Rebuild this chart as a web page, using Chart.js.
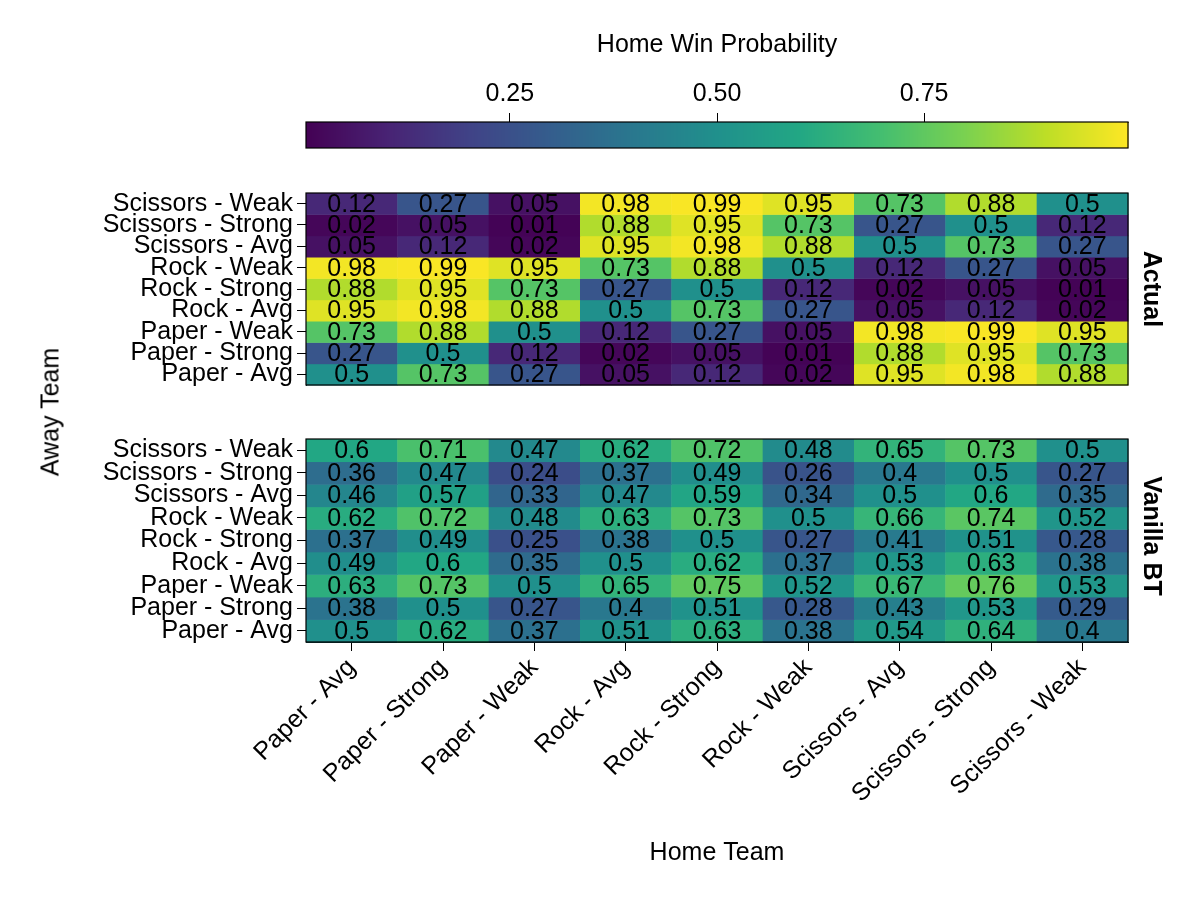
<!DOCTYPE html>
<html><head><meta charset="utf-8">
<script src="https://cdn.jsdelivr.net/npm/chart.js@4"></script>
<style>
body{margin:0;background:#fff;font-family:"Liberation Sans",Arial,sans-serif;}
#wrap{position:relative;width:1200px;height:900px;}
canvas{position:absolute;left:0;}
.lbl{position:absolute;font-size:25px;color:#000;white-space:nowrap;}
</style></head><body>
<div id="wrap">
<canvas id="cb" style="top:0" width="1200" height="170"></canvas>
<canvas id="top" style="top:174px" width="1200" height="230"></canvas>
<canvas id="bot" style="top:420px" width="1200" height="480"></canvas>
<div class="lbl" style="left:50px;top:412px;transform:translate(-50%,-50%) rotate(-90deg)">Away Team</div>
<div class="lbl" style="left:1152px;top:289px;font-weight:bold;transform:translate(-50%,-50%) rotate(90deg)">Actual</div>
<div class="lbl" style="left:1152px;top:536px;font-weight:bold;transform:translate(-50%,-50%) rotate(90deg)">Vanilla BT</div>
</div>
<script>
const homeTeams=["Paper - Avg","Paper - Strong","Paper - Weak","Rock - Avg","Rock - Strong","Rock - Weak","Scissors - Avg","Scissors - Strong","Scissors - Weak"];
const awayTeams=["Paper - Avg","Paper - Strong","Paper - Weak","Rock - Avg","Rock - Strong","Rock - Weak","Scissors - Avg","Scissors - Strong","Scissors - Weak"];
// rows in awayTeams order (bottom to top), columns in homeTeams order
const actual=[
[0.5,0.73,0.27,0.05,0.12,0.02,0.95,0.98,0.88],
[0.27,0.5,0.12,0.02,0.05,0.01,0.88,0.95,0.73],
[0.73,0.88,0.5,0.12,0.27,0.05,0.98,0.99,0.95],
[0.95,0.98,0.88,0.5,0.73,0.27,0.05,0.12,0.02],
[0.88,0.95,0.73,0.27,0.5,0.12,0.02,0.05,0.01],
[0.98,0.99,0.95,0.73,0.88,0.5,0.12,0.27,0.05],
[0.05,0.12,0.02,0.95,0.98,0.88,0.5,0.73,0.27],
[0.02,0.05,0.01,0.88,0.95,0.73,0.27,0.5,0.12],
[0.12,0.27,0.05,0.98,0.99,0.95,0.73,0.88,0.5]];
const vanillaBT=[
[0.5,0.62,0.37,0.51,0.63,0.38,0.54,0.64,0.4],
[0.38,0.5,0.27,0.4,0.51,0.28,0.43,0.53,0.29],
[0.63,0.73,0.5,0.65,0.75,0.52,0.67,0.76,0.53],
[0.49,0.6,0.35,0.5,0.62,0.37,0.53,0.63,0.38],
[0.37,0.49,0.25,0.38,0.5,0.27,0.41,0.51,0.28],
[0.62,0.72,0.48,0.63,0.73,0.5,0.66,0.74,0.52],
[0.46,0.57,0.33,0.47,0.59,0.34,0.5,0.6,0.35],
[0.36,0.47,0.24,0.37,0.49,0.26,0.4,0.5,0.27],
[0.6,0.71,0.47,0.62,0.72,0.48,0.65,0.73,0.5]];
const cbTicks=[0.25,0.5,0.75];
const vmin=0.004, vmax=0.996;

const VIR=[[68,1,84],[72,35,116],[64,67,135],[52,94,141],[41,120,142],[32,144,140],[34,167,132],[68,190,112],[121,209,81],[189,222,38],[253,231,37]];
function viridis(t){t=Math.max(0,Math.min(1,t));const p=t*(VIR.length-1),i=Math.min(VIR.length-2,Math.floor(p)),f=p-i;
const c=VIR[i].map((v,k)=>Math.round(v+(VIR[i+1][k]-v)*f));return `rgb(${c[0]},${c[1]},${c[2]})`;}
const col=v=>viridis((v-vmin)/(vmax-vmin));
const FONT="'Liberation Sans', Arial, sans-serif";
const FS=25;
Chart.defaults.font.family=FONT;Chart.defaults.color='#000';

function heat(id,data,showX){
  const pts=[];data.forEach((row,j)=>row.forEach((v,i)=>pts.push({x:i,y:j,v})));
  const plugin={id:'cells'+id,beforeDatasetsDraw(ch){
    const {ctx,scales:{x,y}}=ch;
    pts.forEach(p=>{const x0=x.getPixelForValue(p.x-0.5),x1=x.getPixelForValue(p.x+0.5),y0=y.getPixelForValue(p.y+0.5),y1=y.getPixelForValue(p.y-0.5);
      ctx.fillStyle=col(p.v);ctx.fillRect(x0,y0,x1-x0+0.5,y1-y0+0.5);});
    pts.forEach(p=>{const cx=x.getPixelForValue(p.x),cy=y.getPixelForValue(p.y);
      ctx.fillStyle='#000';ctx.font=FS+'px '+FONT;ctx.textAlign='center';ctx.textBaseline='middle';
      ctx.fillText(String(p.v),cx,cy+1);});
    const a=ch.chartArea;ctx.strokeStyle='#000';ctx.lineWidth=1.2;ctx.strokeRect(a.left,a.top,a.right-a.left,a.bottom-a.top);
  }};
  return new Chart(document.getElementById(id),{type:'scatter',
    data:{datasets:[{data:pts,pointRadius:0}]},
    options:{responsive:false,animation:false,events:[],
      layout:{padding:{top:10,right:72,bottom:showX?28:10,left:0}},
      plugins:{legend:{display:false},tooltip:{enabled:false}},
      scales:{
        x:{type:'linear',min:-0.5,max:8.5,display:showX,
          afterBuildTicks:s=>{s.ticks=homeTeams.map((_,i)=>({value:i}));},
          afterFit:s=>{if(showX)s.height=230;},
          ticks:{callback:v=>homeTeams[v],font:{size:FS},minRotation:45,maxRotation:45,padding:2,autoSkip:false},
          grid:{drawOnChartArea:false,tickLength:9,color:'#000'},border:{color:'#000'},
          title:{display:true,text:'Home Team',font:{size:FS}}},
        y:{type:'linear',min:-0.5,max:8.5,
          afterBuildTicks:s=>{s.ticks=awayTeams.map((_,i)=>({value:i}));},
          afterFit:s=>{s.width=306;},
          ticks:{callback:v=>awayTeams[v],font:{size:FS},padding:4,autoSkip:false},
          grid:{drawOnChartArea:false,tickLength:9,color:'#000'},border:{color:'#000'}}
      }},plugins:[plugin]});
}
heat('top',actual,false);
heat('bot',vanillaBT,true);

new Chart(document.getElementById('cb'),{type:'scatter',data:{datasets:[{data:[],pointRadius:0}]},
  options:{responsive:false,animation:false,events:[],
    layout:{padding:{top:30,right:72,bottom:22,left:306}},
    plugins:{legend:{display:false},tooltip:{enabled:false}},
    scales:{x:{type:'linear',position:'top',min:vmin,max:vmax,
      afterBuildTicks:s=>{s.ticks=cbTicks.map(v=>({value:v}));},
      afterFit:s=>{s.height=92;},
      ticks:{callback:v=>v.toFixed(2),font:{size:FS},padding:4,maxRotation:0},
      grid:{drawOnChartArea:false,tickLength:9,color:'#000'},border:{color:'#000'},
      title:{display:true,text:'Home Win Probability',font:{size:FS},padding:{top:0,bottom:6}}},
      y:{display:false,min:0,max:1}}},
  plugins:[{id:'cbar',beforeDatasetsDraw(ch){const {ctx,chartArea:a,scales:{x}}=ch;
    for(let px=Math.floor(a.left);px<a.right;px++){ctx.fillStyle=col(x.getValueForPixel(px+0.5));ctx.fillRect(px,a.top,1.5,a.bottom-a.top);}
    ctx.strokeStyle='#000';ctx.lineWidth=1.2;ctx.strokeRect(a.left,a.top,a.right-a.left,a.bottom-a.top);}}]});
</script></body></html>
